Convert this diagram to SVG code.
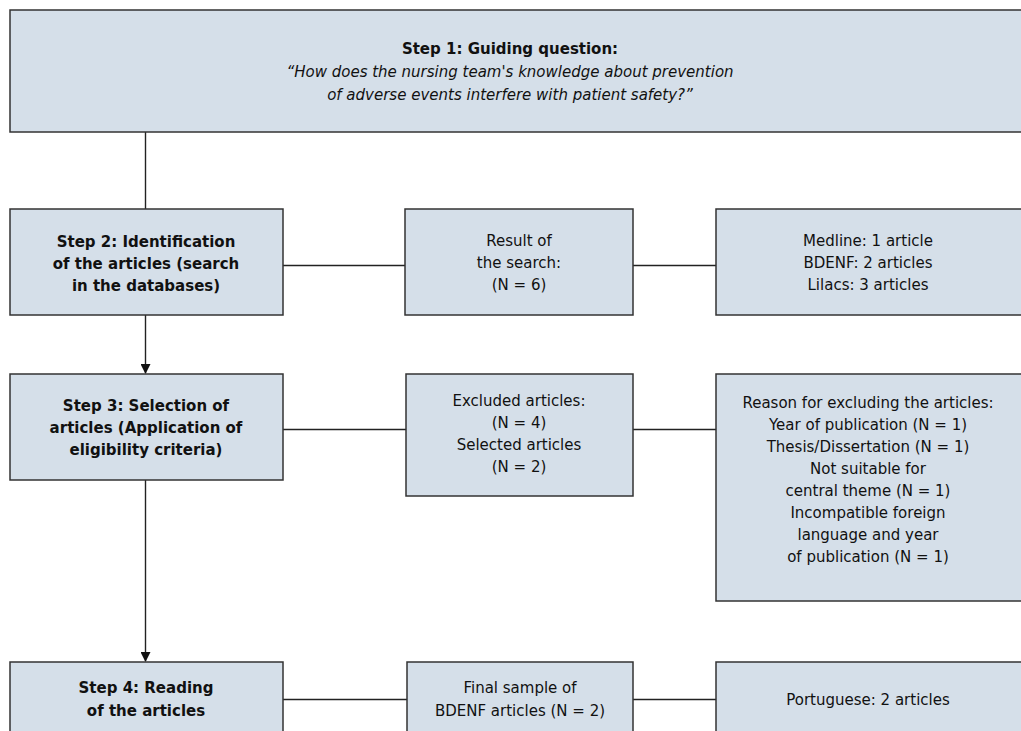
<svg xmlns="http://www.w3.org/2000/svg" width="1021" height="731" viewBox="0 0 1021 731">
<style>
.box{fill:#d5dfe9;stroke:#333;stroke-width:1.5}
.t{font-family:"DejaVu Sans",sans-serif;font-size:15px;fill:#111;text-anchor:middle}
.b{font-weight:bold}
.i{font-style:italic}
.ln{stroke:#222;stroke-width:1.4;fill:none}
</style>
<defs>
<marker id="arr" markerWidth="10" markerHeight="10" refX="9" refY="5" orient="auto" markerUnits="userSpaceOnUse">
<path d="M0,0 L10,5 L0,10 Z" fill="#111"/>
</marker>
</defs>
<rect width="1021" height="731" fill="#fff"/>
<g id="connectors">
<line class="ln" x1="145.5" y1="132" x2="145.5" y2="209"/>
<line class="ln" x1="145.5" y1="315" x2="145.5" y2="373" marker-end="url(#arr)"/>
<line class="ln" x1="145.5" y1="480" x2="145.5" y2="661" marker-end="url(#arr)"/>
<line class="ln" x1="283" y1="265.5" x2="405" y2="265.5"/>
<line class="ln" x1="633" y1="265.5" x2="716" y2="265.5"/>
<line class="ln" x1="283" y1="429.5" x2="407" y2="429.5"/>
<line class="ln" x1="633" y1="429.5" x2="716" y2="429.5"/>
<line class="ln" x1="283" y1="699.5" x2="407" y2="699.5"/>
<line class="ln" x1="633" y1="699.5" x2="716" y2="699.5"/>
</g>
<g id="step1">
<rect class="box" x="10" y="10" width="1020" height="122"/>
<text class="t b" x="510" y="54">Step 1: Guiding question:</text>
<text class="t i" x="510" y="77">“How does the nursing team's knowledge about prevention</text>
<text class="t i" x="510" y="100">of adverse events interfere with patient safety?”</text>
</g>
<g id="step2">
<rect class="box" x="10" y="209" width="273" height="106"/>
<text class="t b" x="146" y="247">Step 2: Identification</text>
<text class="t b" x="146" y="269">of the articles (search</text>
<text class="t b" x="146" y="291">in the databases)</text>
</g>
<g id="result">
<rect class="box" x="405" y="209" width="228" height="106"/>
<text class="t" x="519" y="246">Result of</text>
<text class="t" x="519" y="268">the search:</text>
<text class="t" x="519" y="290">(N = 6)</text>
</g>
<g id="databases">
<rect class="box" x="716" y="209" width="320" height="106"/>
<text class="t" x="868" y="246">Medline: 1 article</text>
<text class="t" x="868" y="268">BDENF: 2 articles</text>
<text class="t" x="868" y="290">Lilacs: 3 articles</text>
</g>
<g id="step3">
<rect class="box" x="10" y="374" width="273" height="106"/>
<text class="t b" x="146" y="411">Step 3: Selection of</text>
<text class="t b" x="146" y="433">articles (Application of</text>
<text class="t b" x="146" y="455">eligibility criteria)</text>
</g>
<g id="excluded">
<rect class="box" x="406" y="374" width="227" height="122"/>
<text class="t" x="519" y="406">Excluded articles:</text>
<text class="t" x="519" y="428">(N = 4)</text>
<text class="t" x="519" y="450">Selected articles</text>
<text class="t" x="519" y="472">(N = 2)</text>
</g>
<g id="reasons">
<rect class="box" x="716" y="374" width="320" height="227"/>
<text class="t" x="868" y="408">Reason for excluding the articles:</text>
<text class="t" x="868" y="430">Year of publication (N = 1)</text>
<text class="t" x="868" y="452">Thesis/Dissertation (N = 1)</text>
<text class="t" x="868" y="474">Not suitable for</text>
<text class="t" x="868" y="496">central theme (N = 1)</text>
<text class="t" x="868" y="518">Incompatible foreign</text>
<text class="t" x="868" y="540">language and year</text>
<text class="t" x="868" y="562">of publication (N = 1)</text>
</g>
<g id="step4">
<rect class="box" x="10" y="662" width="273" height="80"/>
<text class="t b" x="146" y="693">Step 4: Reading</text>
<text class="t b" x="146" y="716">of the articles</text>
</g>
<g id="final">
<rect class="box" x="407" y="662" width="226" height="80"/>
<text class="t" x="520" y="693">Final sample of</text>
<text class="t" x="520" y="716">BDENF articles (N = 2)</text>
</g>
<g id="portuguese">
<rect class="box" x="716" y="662" width="320" height="80"/>
<text class="t" x="868" y="705">Portuguese: 2 articles</text>
</g>
</svg>
